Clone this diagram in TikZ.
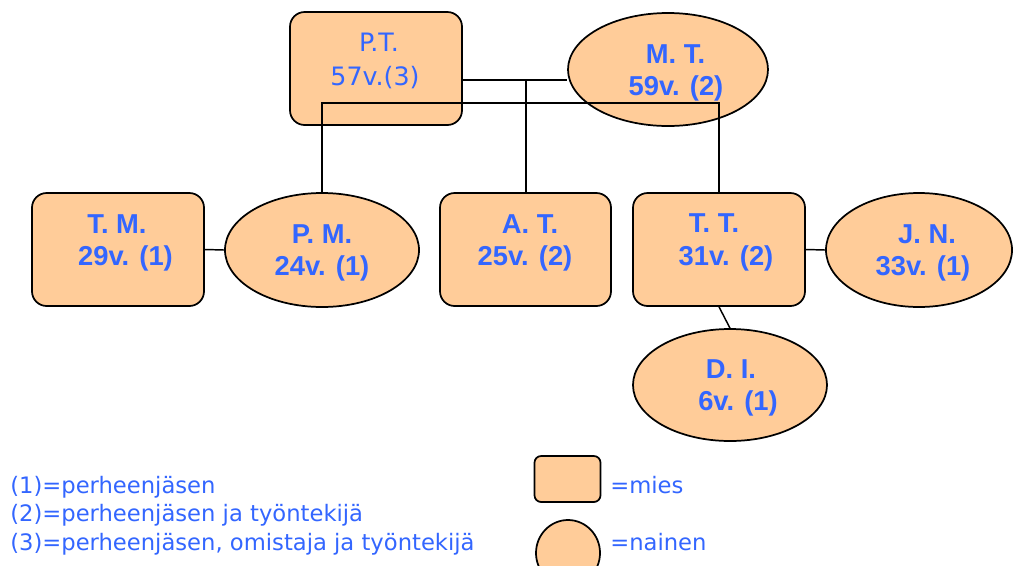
\documentclass[tikz,border=0pt]{standalone}
\usepackage{fontspec}
\setmainfont{Liberation Sans}
\newfontfamily\legendfont{DejaVu Sans}
\usetikzlibrary{shapes.geometric}
\definecolor{peach}{RGB}{255,204,153}
\definecolor{labelblue}{RGB}{51,102,255}
\newdimen\px \px=0.75pt
\begin{document}
\begin{tikzpicture}[x=0.75pt,y=-0.75pt,
  manbox/.style={draw=black, fill=peach, rectangle, rounded corners=11pt,
    minimum width=172\px, minimum height=113\px, inner sep=0pt, line width=1.3pt},
  womanoval/.style={draw=black, fill=peach, ellipse, inner sep=0pt, line width=1.3pt},
  who/.style={text=labelblue, font=\fontsize{20.5}{24}\selectfont\bfseries,
    anchor=base, inner sep=0pt},
  whoplain/.style={text=labelblue, font=\legendfont\fontsize{19}{23}\selectfont,
    anchor=base, inner sep=0pt},
  keytext/.style={text=labelblue, font=\legendfont\fontsize{17}{20}\selectfont,
    anchor=base west, inner sep=0pt},
  link/.style={line width=1.1pt}]
\clip (0,0) rectangle (1013,565);

% family members: boxes for men, ovals for women
\node[manbox] (PT) at (376,68.5) {};
\node[womanoval, minimum width=200\px, minimum height=113\px] (MT) at (668,69.5) {};
\node[manbox] (TM) at (118,249.5) {};
\node[womanoval, minimum width=194\px, minimum height=114\px] (PM) at (322,250) {};
\node[manbox, minimum width=171\px] (AT) at (525.5,249.5) {};
\node[manbox] (TT) at (719,249.5) {};
\node[womanoval, minimum width=186\px, minimum height=114\px] (JN) at (919,250) {};
\node[womanoval, minimum width=194\px, minimum height=112\px] (DI) at (730,385) {};

% relations
\coordinate (fork) at (526,80);
\coordinate (bar) at (322,103);
\draw[link] (PT.east |- fork) -- (MT.west |- fork);
\draw[link] (fork) -- (fork |- AT.north);
\draw[link] (PM.north) -- (PM.north |- bar) -- (TT.north |- bar) -- (TT.north);
\draw[link] (TM.east) -- (PM.west);
\draw[link] (TT.east) -- (JN.west);
\draw[link] (TT.south) -- (DI.north);

% names and ages
\node[whoplain] (PTn) at (379,51) {P.T.};
\node[whoplain] (PTa) at (375,85) {57v.(3)};
\node[who] (MTn) at (675.5,63) {M. T.};
\node[who] (MTa) at (676,95) {59v. (2)};
\node[who] (TMn) at (117,233) {T. M.};
\node[who] (TMa) at (125.5,265) {29v. (1)};
\node[who] (PMn) at (322,243) {P. M.};
\node[who] (PMa) at (322,275) {24v. (1)};
\node[who] (ATn) at (530,233) {A. T.};
\node[who] (ATa) at (525,265) {25v. (2)};
\node[who] (TTn) at (714,232) {T. T.};
\node[who] (TTa) at (726,265) {31v. (2)};
\node[who] (JNn) at (927,243) {J. N.};
\node[who] (JNa) at (923,275) {33v. (1)};
\node[who] (DIn) at (731,378) {D. I.};
\node[who] (DIa) at (738,410) {6v. (1)};

% key
\node[keytext] (k1) at (10,493) {(1)=perheenjäsen};
\node[keytext] (k2) at (10,521.5) {(2)=perheenjäsen ja työntekijä};
\node[keytext] (k3) at (10,550) {(3)=perheenjäsen, omistaja ja työntekijä};
\node[manbox, minimum width=66\px, minimum height=46\px, rounded corners=5pt] (keyM) at (567.5,479) {};
\node[womanoval, minimum width=64\px, minimum height=66\px] (keyW) at (568,553) {};
\node[keytext] (keyMt) at (610,493) {=mies};
\node[keytext] (keyWt) at (610,550) {=nainen};
\end{tikzpicture}
\end{document}
